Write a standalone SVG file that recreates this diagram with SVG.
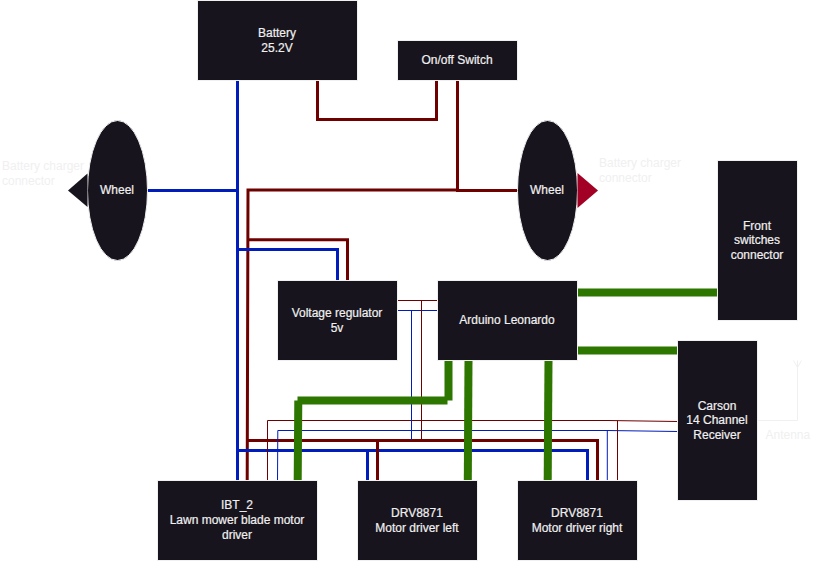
<svg xmlns="http://www.w3.org/2000/svg" width="818" height="561" viewBox="0 0 818 561">
  <style>
    text { font-family: "Liberation Sans", Arial, Helvetica, sans-serif; font-size: 12px; text-anchor: middle; }
    .box { fill: #18141d; stroke: #f0f0f0; stroke-width: 1; }
    .lbl { fill: #f0f0f0; stroke: #f0f0f0; stroke-width: 0.2; }
    .note { fill: #f0f0f0; text-anchor: start; }
    .wire { fill: none; stroke-linejoin: miter; }
    .red { stroke: #6f0000; }
    .blue { stroke: #001dbc; }
    .green { stroke: #2d7600; stroke-width: 8; }
    .w3 { stroke-width: 3; }
    .w1 { stroke-width: 1; }
    .pale { fill: none; stroke: #f0f0f0; stroke-width: 1; }
  </style>

  <g id="connectors" class="wire">
    <!-- main power rails -->
    <path class="blue w3" d="M237.500 80V481"/>
    <path class="blue w3" d="M148 190.500H237.500"/>
    <path class="red w3" d="M457 189.900H248L247.200 481"/>
    <path class="red w3" d="M456 190.500H518"/>
    <path class="red w3" d="M457.500 80V191"/>
    <path class="red w3" d="M317.500 80V119.500H436.500V80"/>
    <!-- regulator feed -->
    <path class="red w3" d="M248 239.800H347.500V281"/>
    <path class="blue w3" d="M237.500 249.500H337.500V281"/>
    <!-- motor driver power -->
    <path class="red w3" d="M248 440.500H597.500V481"/>
    <path class="blue w3" d="M238 450.500H587.500V481"/>
    <path class="red w3" d="M377.500 440.500V481"/>
    <path class="blue w3" d="M367.500 450.500V481"/>
    <!-- receiver signal lines -->
    <path class="red w1" d="M267.500 481V420.500H608L678 421.500"/>
    <path class="blue w1" d="M277.500 481L277.800 430.500H608L678 431.500"/>
    <path class="red w1" d="M617.500 420.500V481"/>
    <path class="blue w1" d="M607.300 430.500V481"/>
    <!-- 5v link to the controller -->
    <path class="red w1" d="M398 300.500H438"/>
    <path class="blue w1" d="M398 310.500H438"/>
    <path class="red w1" d="M421.500 300.500V440"/>
    <path class="blue w1" d="M411.500 310.500V440"/>
    <!-- data buses -->
    <path class="green" d="M577.500 292.500H717.500"/>
    <path class="green" d="M577.500 350.500H677.500"/>
    <path class="green" d="M448.500 360V400.500M447.500 400.500H297.500M298.300 400.500L297.700 481"/>
    <path class="green" d="M468.500 360L467.800 481"/>
    <path class="green" d="M548.500 360L547.700 481"/>
  </g>

  <g id="battery">
    <rect class="box" x="197.500" y="0.500" width="160" height="80"/>
    <text class="lbl" x="277" y="37">Battery</text>
    <text class="lbl" x="277" y="52">25.2V</text>
  </g>
  <g id="switch">
    <rect class="box" x="397.500" y="40.500" width="120" height="40"/>
    <text class="lbl" x="457" y="64">On/off Switch</text>
  </g>
  <g id="wheel-left">
    <ellipse class="box" cx="117.500" cy="190.500" rx="30" ry="70"/>
    <text class="lbl" x="117" y="194">Wheel</text>
  </g>
  <g id="wheel-right">
    <ellipse class="box" cx="547.500" cy="190.500" rx="30" ry="70"/>
    <text class="lbl" x="547" y="194">Wheel</text>
  </g>
  <g id="charger-left">
    <path d="M87.500 173.500V207L68 190.500Z" fill="#18141d"/>
    <text class="note" x="2" y="170">Battery charger</text>
    <text class="note" x="2" y="185">connector</text>
  </g>
  <g id="charger-right">
    <path d="M577.500 173V208L598 190.500Z" fill="#a20025"/>
    <text class="note" x="599" y="167">Battery charger</text>
    <text class="note" x="599" y="182">connector</text>
  </g>
  <g id="front-switches">
    <rect class="box" x="717.500" y="160.500" width="80" height="160"/>
    <text class="lbl" x="757" y="230">Front</text>
    <text class="lbl" x="757" y="244">switches</text>
    <text class="lbl" x="757" y="259">connector</text>
  </g>
  <g id="regulator">
    <rect class="box" x="277.500" y="280.500" width="120" height="80"/>
    <text class="lbl" x="337" y="317">Voltage regulator</text>
    <text class="lbl" x="337" y="332">5v</text>
  </g>
  <g id="arduino">
    <rect class="box" x="437.500" y="280.500" width="140" height="80"/>
    <text class="lbl" x="507" y="324">Arduino Leonardo</text>
  </g>
  <g id="receiver">
    <rect class="box" x="677.500" y="340.500" width="80" height="160"/>
    <text class="lbl" x="717" y="410">Carson</text>
    <text class="lbl" x="717" y="424">14 Channel</text>
    <text class="lbl" x="717" y="439">Receiver</text>
  </g>
  <g id="antenna">
    <path class="pale" d="M758 420.500H797.500V360.500M797.500 367.500L793.500 360.500M797.500 367.500L801.500 360.500"/>
    <text class="note" x="765.500" y="439">Antenna</text>
  </g>
  <g id="ibt2">
    <rect class="box" x="157.500" y="480.500" width="160" height="80"/>
    <text class="lbl" x="237" y="509">IBT_2</text>
    <text class="lbl" x="237" y="524">Lawn mower blade motor</text>
    <text class="lbl" x="237" y="539">driver</text>
  </g>
  <g id="drv-left">
    <rect class="box" x="357.500" y="480.500" width="120" height="80"/>
    <text class="lbl" x="417" y="517">DRV8871</text>
    <text class="lbl" x="417" y="532">Motor driver left</text>
  </g>
  <g id="drv-right">
    <rect class="box" x="517.500" y="480.500" width="120" height="80"/>
    <text class="lbl" x="577" y="517">DRV8871</text>
    <text class="lbl" x="577" y="532">Motor driver right</text>
  </g>
</svg>
